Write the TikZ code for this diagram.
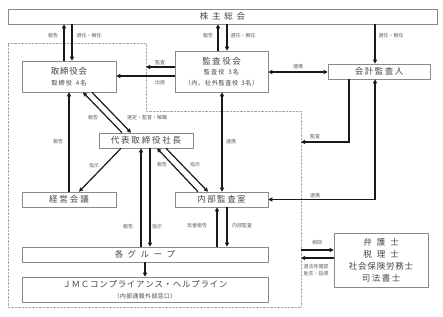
\documentclass[tikz,border=0pt]{standalone}
\usepackage{fontspec}
\newfontfamily\jp{Noto Sans CJK JP}
\usetikzlibrary{arrows.meta}
\definecolor{txt}{HTML}{444444}
\definecolor{lbl}{HTML}{606060}
\definecolor{bd}{HTML}{8A8A8A}
\definecolor{dotc}{HTML}{A8A8A8}
\makeatletter
\def\lsend{LSEND}
\newcommand\spaced[2]{\def\lsamt{#1}\ls@first#2\lsend}
\def\ls@first#1{#1\ls@iter}
\def\ls@iter#1{\ifx#1\lsend\else\hspace{\lsamt}#1\expandafter\ls@iter\fi}
\makeatother
\begin{document}
\begin{tikzpicture}[x=1pt,y=-1pt,
 box/.style={draw=bd,line width=0.6pt,fill=white,inner sep=0pt,text=txt,
   font=\jp\fontsize{8.5}{10}\selectfont,align=center},
 lab/.style={text=lbl,font=\jp\fontsize{5}{5.8}\selectfont,inner sep=0pt,align=center},
 arr/.style={line width=1.2pt,draw=black!90,-{Triangle[length=4pt,width=4pt]}},
 darr/.style={line width=1.2pt,draw=black!90,{Triangle[length=4pt,width=4pt]}-{Triangle[length=4pt,width=4pt]}}]
\useasboundingbox[fill=white] (0,0) rectangle (443,316);
% dotted region
\draw[draw=dotc,line width=0.6pt,dash pattern=on 0.5pt off 0.9pt]
  (8,43) -- (146,43) -- (146,111) -- (301,111) -- (301,307) -- (8,307) -- cycle;
% boxes
\node[box,minimum width=429pt,minimum height=15pt] (kabu) at (222.5,16.5) {\spaced{3.8pt}{株主総会}};
\node[box,minimum width=94pt,minimum height=31pt] (tori) at (69,76.5)
  {\spaced{0.8pt}{取締役会}\\[1pt]{\fontsize{6.2}{7}\selectfont\spaced{1pt}{取締役}\hspace{4pt}\spaced{1pt}{4名}}};
\node[box,minimum width=93pt,minimum height=41pt] (kansa) at (221.5,71.5)
  {\spaced{1.5pt}{監査役会}\\[0.5pt]{\fontsize{6.2}{7}\selectfont\spaced{1pt}{監査役}\hspace{4pt}\spaced{1pt}{3名}}\\[1pt]{\fontsize{6.2}{7}\selectfont\spaced{0.6pt}{（内、社外監査役}\hspace{3pt}\spaced{0.6pt}{3名）}}};
\node[box,minimum width=102pt,minimum height=15pt] (kaikei) at (379,71.5) {\spaced{1.5pt}{会計監査人}};
\node[box,minimum width=94pt,minimum height=15pt] (daihyo) at (146,140.5) {\spaced{1.8pt}{代表取締役社長}};
\node[box,minimum width=94pt,minimum height=15pt] (keiei) at (69,199.5) {\spaced{2pt}{経営会議}};
\node[box,minimum width=93pt,minimum height=15pt] (naibu) at (221.5,199.5) {\spaced{1.5pt}{内部監査室}};
\node[box,minimum width=246pt,minimum height=15pt] (group) at (145,254.5) {\spaced{4.5pt}{各グループ}};
\node[box,minimum width=246pt,minimum height=25pt] (jmc) at (145,289.5)
  {\spaced{0.7pt}{ＪＭＣコンプライアンス・ヘルプライン}\\[0.5pt]{\fontsize{5.8}{7}\selectfont\spaced{0.5pt}{（内部通報外部窓口）}}};
\node[box,minimum width=94pt,minimum height=54pt,font=\jp\fontsize{8.5}{12}\selectfont] (bengo) at (381,260)
  {\spaced{5pt}{弁護士}\\\spaced{5pt}{税理士}\\\spaced{0.8pt}{社会保険労務士}\\\spaced{1.5pt}{司法書士}};
% labels
\node[lab] (lA) at (53,36) {報告};
\node[lab] (lB) at (89,36) {選任・解任};
\node[lab] (lC) at (208,36) {報告};
\node[lab] (lD) at (243,36) {選任・解任};
\node[lab] (lE) at (391,36) {選任・解任};
\node[lab] (lF) at (160,62.5) {監査};
\node[lab] (lG) at (160,83) {出席};
\node[lab] (lH) at (298,67) {連携};
\node[lab] (lI) at (315,137) {監査};
\node[lab] (lJ) at (231,142) {連携};
\node[lab] (lK) at (315,196) {連携};
\node[lab] (lL) at (93,118) {報告};
\node[lab] (lM) at (147,118) {選定・監督・解職};
\node[lab] (lN) at (58,142) {報告};
\node[lab] (lO) at (94,166) {指示};
\node[lab] (lP) at (162,165) {報告};
\node[lab] (lQ) at (195,165) {指示};
\node[lab] (lR) at (128,227) {報告};
\node[lab] (lS) at (157,227) {指示};
\node[lab] (lT) at (197,226) {改善報告};
\node[lab] (lU) at (242,226) {内部監査};
\node[lab] (lV) at (317,243) {相談};
\node[lab] (lW) at (316,266.5) {適法性確認};
\node[lab] (lX) at (316,273.5) {助言・指導};
% connectors
\draw[arr] (tori.north -| 64,0) -- (kabu.south -| 64,0);
\draw[arr] (kabu.south -| 72,0) -- (tori.north -| 72,0);
\draw[arr] (kansa.north -| 218,0) -- (kabu.south -| 218,0);
\draw[arr] (kabu.south -| 227,0) -- (kansa.north -| 227,0);
\draw[arr] (kabu.south -| 375,0) -- (kaikei.north -| 375,0);
\coordinate (dA) at (146,67);
\draw[arr] (kansa.west |- dA) -- (dA);
\draw[arr] (kansa.west |- 0,76) -- (tori.east |- 0,76);
\draw[darr] (kansa.east |- 0,72) -- (kaikei.west |- 0,72);
\coordinate (dB) at (301,142);
\draw[arr] (kaikei.south -| 349,0) |- (dB);
\draw[darr] (kaikei.south -| 375,0) |- (naibu.east |- 0,199.5);
\draw[darr] (kansa.south -| 222,0) -- (naibu.north -| 222,0);
\draw[arr] (daihyo.north -| 122,0) -- (tori.south -| 83,0);
\draw[arr] (tori.south -| 92,0) -- (daihyo.north -| 131,0);
\draw[arr] (keiei.north -| 69,0) -- (tori.south -| 69,0);
\draw[arr] (daihyo.south -| 121,0) -- (keiei.north -| 79,0);
\draw[arr] (group.north -| 141,0) -- (daihyo.south -| 141,0);
\draw[arr] (daihyo.south -| 150,0) -- (group.north -| 150,0);
\draw[arr] (naibu.north -| 198,0) -- (daihyo.south -| 157,0);
\draw[arr] (daihyo.south -| 166,0) -- (naibu.north -| 208,0);
\draw[arr] (group.north -| 217,0) -- (naibu.south -| 217,0);
\draw[arr] (naibu.south -| 227,0) -- (group.north -| 227,0);
\draw[arr] (group.south -| 145,0) -- (jmc.north -| 145,0);
\coordinate (dC) at (301,250);
\coordinate (dD) at (301,258);
\draw[arr] (dC) -- (bengo.west |- dC);
\draw[arr] (bengo.west |- dD) -- (dD);
\end{tikzpicture}
\end{document}
